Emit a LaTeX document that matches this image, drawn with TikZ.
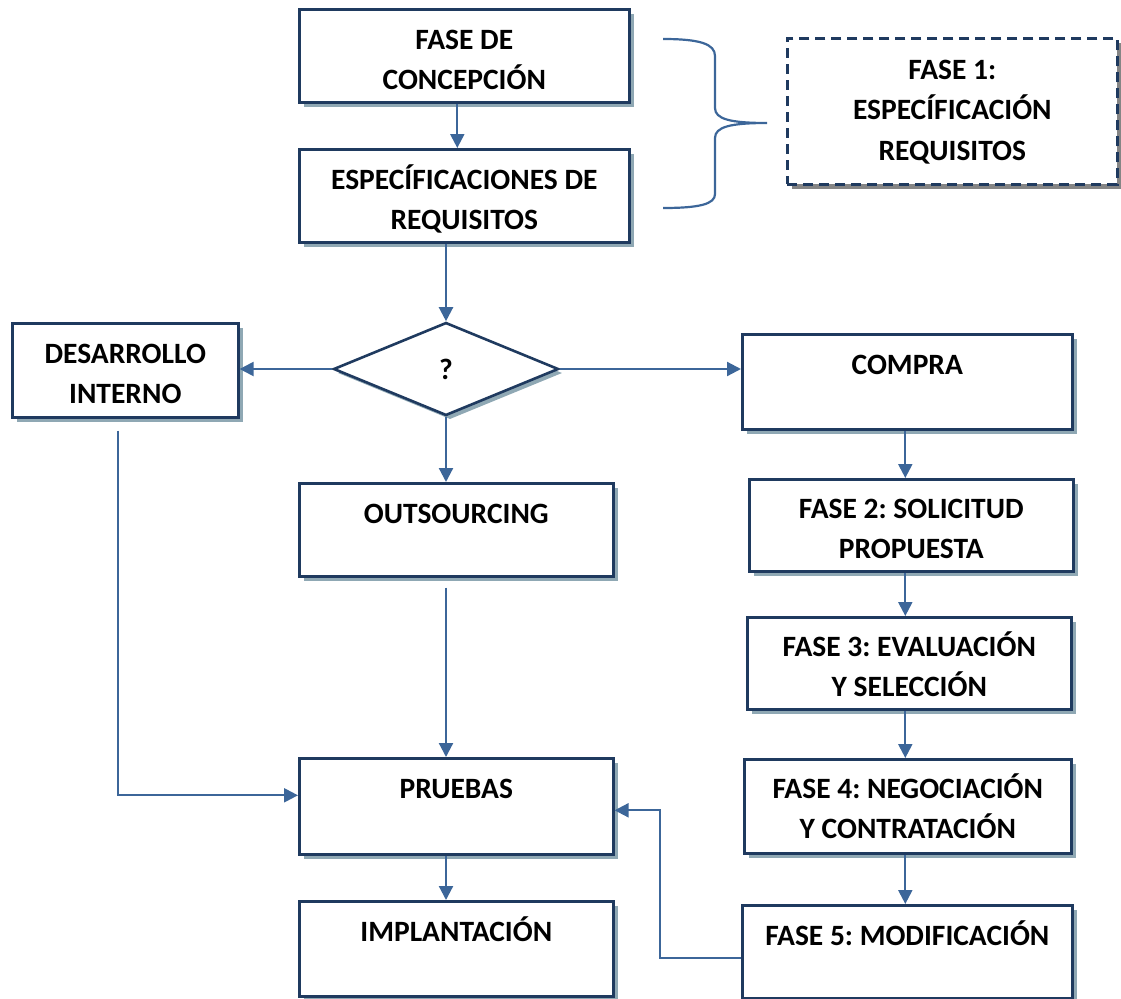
\documentclass[tikz,border=0pt]{standalone}
\usepackage{fontspec}
\setmainfont{Carlito}
\usetikzlibrary{shapes.geometric,arrows.meta,shadows}
\definecolor{navy}{HTML}{1F3A5F}
\definecolor{flow}{HTML}{3C6699}
\definecolor{shade}{HTML}{8FA8B4}
\definecolor{greyshade}{HTML}{858585}
% box text: width, height, text; optional first-baseline offset from the top
\newcommand\bx[4][40]{\parbox[t][#3pt][t]{#2pt}{\frenchspacing\centering\rule{0pt}{#1pt}#4}}
\tikzset{
  boxfont/.style={font=\fontsize{29.5}{40.5}\selectfont\bfseries},
  stepbox/.style={draw=navy, line width=2.6pt, fill=white, inner sep=0pt,
    anchor=north west, boxfont,
    copy shadow={shadow xshift=5pt, shadow yshift=-5pt, fill=shade, draw=none}},
  phasebox/.style={stepbox, dash pattern=on 10pt off 6pt, line width=2.6pt,
    copy shadow={shadow xshift=5pt, shadow yshift=-5pt, fill=greyshade, draw=none}},
  choice/.style={diamond, draw=navy, line width=2.6pt, fill=white, inner sep=0pt,
    minimum width=225pt, minimum height=93pt, boxfont,
    copy shadow={shadow xshift=4pt, shadow yshift=-4pt, fill=shade, draw=none}},
  arr/.style={draw=flow, line width=2.2pt, -{Triangle[length=14pt,width=14pt]}},
  link/.style={draw=flow, line width=2.2pt},
}
\begin{document}
\begin{tikzpicture}[x=1pt,y=-1pt]
\useasboundingbox (0,0) rectangle (1121,998);

% left / centre column
\node[stepbox] (con) at (298,8)   {\bx{330}{93}{FASE DE\\CONCEPCIÓN}};
\node[stepbox] (esp) at (298,148) {\bx{330}{93}{ESPECÍFICACIONES DE\\REQUISITOS}};
\node[choice]  (dia) at (446,369) {?};
\node[stepbox] (des) at (11,322)  {\bx{226}{94}{DESARROLLO\\INTERNO}};
\node[stepbox] (out) at (298,482) {\bx{314}{93}{OUTSOURCING}};
\node[stepbox] (pru) at (298,757) {\bx{314}{96}{PRUEBAS}};
\node[stepbox] (imp) at (298,900) {\bx{314}{95}{IMPLANTACIÓN}};

% phase summary
\node[phasebox] (f1) at (786,37) {\bx[41]{330}{146}{FASE 1:\\ESPECÍFICACIÓN\\REQUISITOS}};

% purchase column
\node[stepbox] (com) at (741,333) {\bx{330}{95}{COMPRA}};
\node[stepbox] (f2)  at (748,478) {\bx[39]{324}{92}{FASE 2: SOLICITUD\\PROPUESTA}};
\node[stepbox] (f3)  at (746,616) {\bx[39]{324}{92}{FASE 3: EVALUACIÓN\\Y SELECCIÓN}};
\node[stepbox] (f4)  at (743,758) {\bx[39]{327}{94}{FASE 4: NEGOCIACIÓN\\Y CONTRATACIÓN}};
\node[stepbox] (f5)  at (741,904) {\bx{330}{93}{FASE 5: MODIFICACIÓN}};

% brace grouping the first two steps
\draw[link] (663,39) .. controls (700,39) and (715,44) .. (715,56) -- (715,108)
  .. controls (715,119) and (730,123) .. (767,123)
  .. controls (730,123) and (715,127) .. (715,138) -- (715,194)
  .. controls (715,204) and (700,208) .. (663,208);

% flow
\draw[arr] ([xshift=-7pt]con.south) -- ([xshift=-7pt]esp.north);
\draw[arr] (dia.north |- esp.south) -- (dia.north);
\draw[arr] (dia.west) -- (des.east |- dia.west);
\draw[arr] (dia.east) -- (com.west |- dia.east);
\draw[arr] (dia.south) -- (dia.south |- out.north);
\draw[arr, shorten <=10pt] (dia.south |- out.south) -- (dia.south |- pru.north);
\draw[arr] (dia.south |- pru.south) -- (dia.south |- imp.north);

\coordinate (rx) at ([xshift=-2pt]com.south);
\draw[arr] (rx) -- (rx |- f2.north);
\draw[arr] (rx |- f2.south) -- (rx |- f3.north);
\draw[arr] (rx |- f3.south) -- (rx |- f4.north);
\draw[arr] (rx |- f4.south) -- (rx |- f5.north);

\draw[arr] ([xshift=-7pt,yshift=-12pt]des.south) |- ([yshift=11pt]pru.west);
\draw[arr] ([yshift=-6.5pt]f5.west) -- ++(-81,0) |- ([yshift=-4pt]pru.east);
\end{tikzpicture}
\end{document}
